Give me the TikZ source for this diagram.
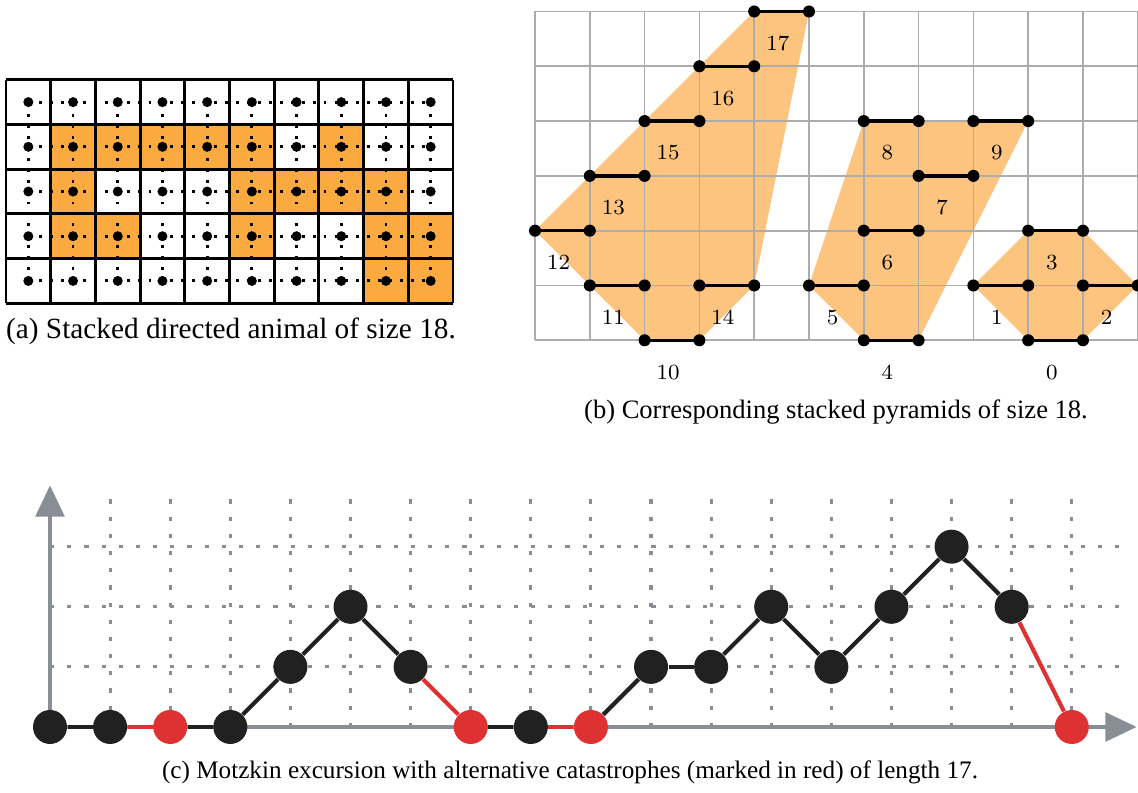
\documentclass[tikz,border=0pt]{standalone}
\usepackage{fontspec}
\newfontfamily\capfont{Liberation Serif}
\usetikzlibrary{arrows.meta}
\definecolor{animal}{RGB}{251,170,64}
\definecolor{pyramid}{RGB}{253,196,128}
\definecolor{axisgray}{RGB}{136,142,148}
\definecolor{walkblack}{RGB}{33,33,33}
\definecolor{catred}{RGB}{222,50,50}
\tikzset{
    caption/.style={font=\capfont\fontsize{#1}{12}\selectfont},
    latticeline/.style={line width=1.1pt, dash pattern=on 1.1pt off 3.1pt},
    dimer/.style={line width=1.3pt},
    heaplabel/.style={font=\fontsize{8.3}{10}\selectfont},
    griddash/.style={axisgray, line width=1.2pt, dash pattern=on 1.6pt off 5pt},
    axis/.style={axisgray, line width=1.5pt, -{Triangle[length=12pt,width=11pt]}},
    walknode/.style={circle, fill=walkblack, inner sep=0pt, minimum size=0.459cm},
    catnode/.style={walknode, fill=catred},
    walkedge/.style={walkblack, line width=1.6pt},
    catedge/.style={catred, line width=1.6pt},
}

\begin{document}
\begin{tikzpicture}
\useasboundingbox (0,0) rectangle (15.363,10.7055);

% (a) stacked directed animal
\begin{scope}[shift={(0.081,6.611)}, x=0.6035cm, y=0.6035cm]
\foreach \c/\r in {1/3,2/3,3/3,4/3,5/3,7/3,1/2,5/2,6/2,7/2,8/2,1/1,2/1,5/1,8/1,9/1,8/0,9/0}
    \fill[animal] (\c,\r) rectangle ++(1,1);
\foreach \r in {0,...,4}
    \draw[latticeline] (0.5,\r+0.5) -- (9.5,\r+0.5);
\foreach \c in {0,...,9}
    \draw[latticeline] (\c+0.5,0.5) -- (\c+0.5,4.5);
\foreach \c in {0,...,9}
    \foreach \r in {0,...,4}
        \fill (\c+0.5,\r+0.5) circle (0.112);
\draw[line width=1.1pt, step=1] (0,0) grid (10,5);
\end{scope}
\node[caption=11.25] (capa) at (3.1185,6.237) {(a) Stacked directed animal of size 18.};

% (b) stacked pyramids
\begin{scope}[shift={(7.2225,6.1115)}, x=0.7398cm, y=0.7398cm]
\fill[pyramid] (0,2) -- (4,6) -- (5,6) -- (4,1) -- (3,0) -- (2,0) -- cycle;
\fill[pyramid] (5,1) -- (6,4) -- (9,4) -- (7,0) -- (6,0) -- cycle;
\fill[pyramid] (8,1) -- (9,2) -- (10,2) -- (11,1) -- (10,0) -- (9,0) -- cycle;
\draw[gray!65, line width=0.65pt, step=1] (0,0) grid (11,6);
\foreach \x/\y/\n in {9/0/0, 8/1/1, 10/1/2, 9/2/3, 6/0/4, 5/1/5, 6/2/6, 7/3/7, 6/4/8, 8/4/9,
        2/0/10, 1/1/11, 0/2/12, 1/3/13, 3/1/14, 2/4/15, 3/5/16, 4/6/17} {
    \draw[dimer] (\x,\y) -- ++(1,0);
    \fill (\x,\y) circle (0.11) ++(1,0) circle (0.11);
    \node[heaplabel] at (\x+0.43,\y-0.58) {\n};
}
\end{scope}
\node[caption=10.2] (capb) at (11.286,5.1435) {(b) Corresponding stacked pyramids of size 18.};

% (c) Motzkin excursion
\begin{scope}[shift={(0.675,0.891)}, x=0.8114cm, y=0.8114cm]
\foreach \x in {1,...,17}
    \draw[griddash] (\x,0) -- (\x,4);
\foreach \y in {1,2,3}
    \draw[griddash] (0,\y) -- (18,\y);
\draw[axis] (0,0) -- (18.08,0);
\draw[axis] (0,0) -- (0,4.02);
\foreach \i/\h/\s in {0/0/walknode, 1/0/walknode, 2/0/catnode, 3/0/walknode, 4/1/walknode,
        5/2/walknode, 6/1/walknode, 7/0/catnode, 8/0/walknode, 9/0/catnode, 10/1/walknode,
        11/1/walknode, 12/2/walknode, 13/1/walknode, 14/2/walknode, 15/3/walknode,
        16/2/walknode, 17/0/catnode}
    \node[\s] (m\i) at (\i,\h) {};
\foreach \a/\b/\s in {0/1/walkedge, 1/2/catedge, 2/3/walkedge, 3/4/walkedge, 4/5/walkedge,
        5/6/walkedge, 6/7/catedge, 7/8/walkedge, 8/9/catedge, 9/10/walkedge, 10/11/walkedge,
        11/12/walkedge, 12/13/walkedge, 13/14/walkedge, 14/15/walkedge, 15/16/walkedge,
        16/17/catedge}
    \draw[\s] (m\a) -- (m\b);
\end{scope}
\node[caption=9.68] (capc) at (7.695,0.2835) {(c) Motzkin excursion with alternative catastrophes (marked in red) of length 17.};
\end{tikzpicture}
\end{document}
